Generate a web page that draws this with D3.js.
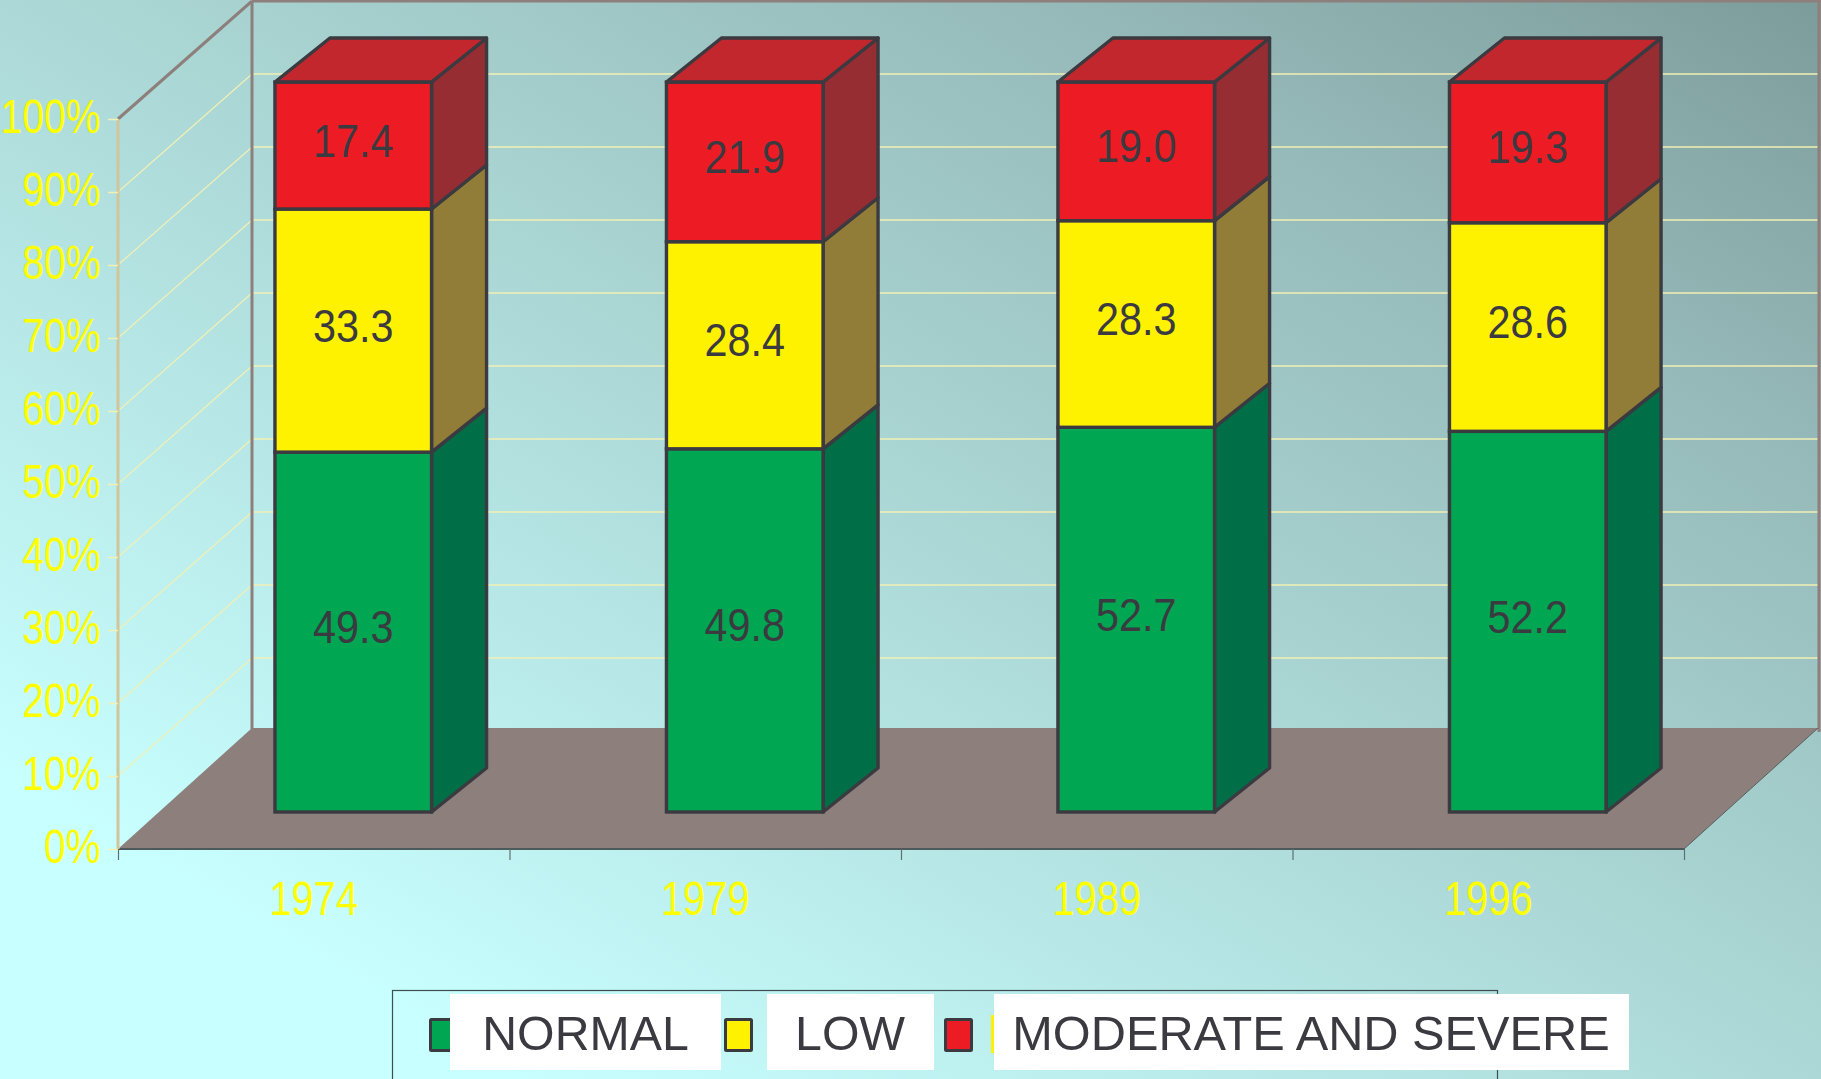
<!DOCTYPE html>
<html>
<head>
<meta charset="utf-8">
<script src="https://cdn.jsdelivr.net/npm/d3@7"></script>
<style>
  html, body { margin: 0; padding: 0; overflow: hidden; background: #c8ffff; }
  svg { display: block; }
  text { font-family: "Liberation Sans", Arial, sans-serif; }
</style>
</head>
<body>
<div id="chart"></div>
<script>
// Share of each nutrition status per survey year, in percent.
const years = ["1974", "1979", "1989", "1996"];
const normal = [49.3, 49.8, 52.7, 52.2];
const low = [33.3, 28.4, 28.3, 28.6];
const moderateSevere = [17.4, 21.9, 19.0, 19.3];
const seriesNames = ["NORMAL", "LOW", "MODERATE AND SEVERE"];
const percentTicks = [0, 10, 20, 30, 40, 50, 60, 70, 80, 90, 100];

const W = 1821, H = 1079;
const svg = d3.select("#chart").append("svg").attr("width", W).attr("height", H);

// Page background: diagonal wash from pale cyan to a dull teal.
const grad = svg.append("defs").append("linearGradient")
  .attr("id", "wash").attr("x1", 0).attr("y1", 1).attr("x2", 1).attr("y2", 0);
[[0, "#c8ffff"], [0.14, "#c8ffff"], [0.5, "#acd9d7"], [0.8, "#94b8b7"], [1, "#7c9c9b"]].forEach(([o, c]) =>
  grad.append("stop").attr("offset", o).attr("stop-color", c));
svg.append("rect").attr("width", W).attr("height", H).attr("fill", "url(#wash)");

// Plot box geometry of the oblique projection.
const left = 118, right = 1684, floorFront = 849, wallTop = 119;
const boxDx = 134, boxDy = 120;
const barDx = 55, barDy = 44, barGapX = 39.5, barGapY = 37;

const yFront = d3.scaleLinear().domain([0, 100]).range([floorFront, wallTop]);
const yBar = d3.scaleLinear().domain([0, 1]).range([floorFront - barGapY, wallTop - barGapY]);
const xBand = d3.scaleBand().domain(years).range([left, right]);
const xEdges = d3.scaleLinear().domain([0, years.length]).range([left, right]);
const barWidth = xBand.bandwidth() * 0.4;
const barLeft = yr => xBand(yr) + xBand.bandwidth() * 0.3 + barGapX;

const pts = a => a.map(p => p.join(",")).join(" ");
const wallColor = "#8d7f7b", gridColor = "#f2f0b4", ink = "#3a3a40";

// Floor
svg.append("polygon")
  .attr("points", pts([[left, floorFront], [right, floorFront], [right + boxDx, floorFront - boxDy - 1], [left + boxDx, floorFront - boxDy - 1]]))
  .attr("fill", wallColor);

// Gridlines on the side wall and the back wall
const gridTicks = percentTicks.filter(t => t > 0 && t < 100);
svg.append("g").selectAll("line").data(gridTicks).join("line")
  .attr("x1", left).attr("y1", d => yFront(d))
  .attr("x2", left + boxDx).attr("y2", d => yFront(d) - boxDy + 2)
  .attr("stroke", gridColor).attr("stroke-width", 1.2);
svg.append("g").selectAll("line").data(gridTicks).join("line")
  .attr("x1", left + boxDx).attr("y1", d => yFront(d) - boxDy + 2)
  .attr("x2", right + boxDx).attr("y2", d => yFront(d) - boxDy + 2)
  .attr("stroke", gridColor).attr("stroke-width", 1.5);

// Wall outline
const outline = [
  [[left, wallTop], [left + boxDx, 1]],
  [[left + boxDx, 1], [left + boxDx, floorFront - boxDy]],
  [[left + boxDx, 1], [W, 1]],
  [[right + boxDx + 1, 1], [right + boxDx + 1, floorFront - boxDy + 3]]
];
svg.append("g").selectAll("line").data(outline).join("line")
  .attr("x1", d => d[0][0]).attr("y1", d => d[0][1])
  .attr("x2", d => d[1][0]).attr("y2", d => d[1][1])
  .attr("stroke", wallColor).attr("stroke-width", 3);

// Floor edges
svg.append("line").attr("x1", left).attr("y1", floorFront).attr("x2", right).attr("y2", floorFront)
  .attr("stroke", "#4d5a5c").attr("stroke-width", 2);
svg.append("line").attr("x1", right).attr("y1", floorFront).attr("x2", right + boxDx).attr("y2", floorFront - boxDy - 1)
  .attr("stroke", "#55605f").attr("stroke-width", 1);

// Percent axis along the front of the side wall
svg.append("line").attr("x1", left).attr("y1", wallTop).attr("x2", left).attr("y2", floorFront)
  .attr("stroke", "#d0c69a").attr("stroke-width", 3);
const yAxis = svg.append("g").attr("transform", `translate(${left},0)`)
  .call(d3.axisLeft(yFront).tickValues(percentTicks).tickSize(10).tickFormat(d => d + "%"));
yAxis.select(".domain").remove();
yAxis.selectAll("line").attr("stroke", gridColor).attr("stroke-width", 1.5);
yAxis.selectAll("text")
  .attr("x", null).attr("dy", null)
  .attr("text-anchor", "end")
  .attr("fill", "#ffff00").attr("font-size", 48)
  .attr("transform", "translate(-17.5,13) scale(0.815,1)");

// Year axis: tick marks on the band edges, labels on the band centres
const edgeAxis = svg.append("g").attr("transform", `translate(0,${floorFront})`)
  .call(d3.axisBottom(xEdges).tickValues(d3.range(years.length + 1)).tickSize(11).tickFormat(""));
edgeAxis.select(".domain").remove();
edgeAxis.selectAll("line").attr("stroke", "#5f6e6f").attr("stroke-width", 1.2);

const yearAxis = svg.append("g").attr("transform", `translate(0,${floorFront})`)
  .call(d3.axisBottom(xBand).tickSize(0));
yearAxis.select(".domain").remove();
yearAxis.selectAll("text")
  .attr("y", null).attr("dy", null)
  .attr("text-anchor", "middle")
  .attr("fill", "#ffff00").attr("font-size", 48)
  .attr("transform", "translate(0,66) scale(0.83,1)");

// Stacked columns, normalised so that every column fills the full height
const rows = years.map((yr, i) => ({ year: yr, NORMAL: normal[i], LOW: low[i], "MODERATE AND SEVERE": moderateSevere[i] }));
const stacked = d3.stack().keys(seriesNames).offset(d3.stackOffsetExpand)(rows);
const faceFill = { "NORMAL": "#00a651", "LOW": "#fff200", "MODERATE AND SEVERE": "#ed1c24" };
const sideFill = { "NORMAL": "#006f47", "LOW": "#927d38", "MODERATE AND SEVERE": "#962d33" };
const topFill = "#c1272d";

const columns = svg.append("g").selectAll("g").data(years).join("g");
columns.each(function (yr, col) {
  const g = d3.select(this);
  const x0 = barLeft(yr), x1 = x0 + barWidth;
  stacked.forEach(layer => {
    const [v0, v1] = layer[col];
    const yb = yBar(v0), yt = yBar(v1);
    g.append("polygon")
      .attr("points", pts([[x1, yb], [x1 + barDx, yb - barDy], [x1 + barDx, yt - barDy], [x1, yt]]))
      .attr("fill", sideFill[layer.key]).attr("stroke", ink).attr("stroke-width", 3.4).attr("stroke-linejoin", "round");
    g.append("rect")
      .attr("x", x0).attr("y", yt).attr("width", barWidth).attr("height", yb - yt)
      .attr("fill", faceFill[layer.key]).attr("stroke", ink).attr("stroke-width", 3.4);
  });
  const yTop = yBar(1);
  g.append("polygon")
    .attr("points", pts([[x0, yTop], [x1, yTop], [x1 + barDx, yTop - barDy], [x0 + barDx, yTop - barDy]]))
    .attr("fill", topFill).attr("stroke", ink).attr("stroke-width", 3.4).attr("stroke-linejoin", "round");
  stacked.forEach(layer => {
    const [v0, v1] = layer[col];
    const value = layer[col].data[layer.key];
    g.append("text")
      .attr("transform", `translate(${(x0 + x1) / 2},${(yBar(v0) + yBar(v1)) / 2 + 11}) scale(0.88,1)`)
      .attr("text-anchor", "middle").attr("fill", ink).attr("font-size", 47)
      .text(value.toFixed(1));
  });
});

// Legend: frame runs off the bottom of the page
const legend = svg.append("g");
legend.append("rect").attr("x", 392.5).attr("y", 990.5).attr("width", 1105).attr("height", 200)
  .attr("fill", "none").attr("stroke", "#3f4c50").attr("stroke-width", 1.2);

const swatchBoxes = [{ x: 430.5 }, { x: 725.5 }, { x: 945.5 }];
legend.append("g").selectAll("rect").data(seriesNames).join("rect")
  .attr("x", (d, i) => swatchBoxes[i].x).attr("y", 1019.5).attr("width", 26).attr("height", 31).attr("rx", 1)
  .attr("fill", d => faceFill[d]).attr("stroke", ink).attr("stroke-width", 3);
legend.append("rect").attr("x", 991).attr("y", 1015).attr("width", 10).attr("height", 38).attr("fill", faceFill["LOW"]);

const labelBoxes = [
  { x: 450, w: 271, cx: 585.5, sx: 0.985 },
  { x: 767, w: 167, cx: 850, sx: 0.985 },
  { x: 994, w: 635, cx: 1311, sx: 0.995 }
];
seriesNames.forEach((name, i) => {
  const b = labelBoxes[i];
  legend.append("rect").attr("x", b.x).attr("y", 994).attr("width", b.w).attr("height", 76).attr("fill", "#ffffff");
  legend.append("text")
    .attr("transform", `translate(${b.cx},1050) scale(${b.sx},1)`)
    .attr("text-anchor", "middle").attr("fill", ink).attr("font-size", 49)
    .text(name);
});
</script>
</body>
</html>
